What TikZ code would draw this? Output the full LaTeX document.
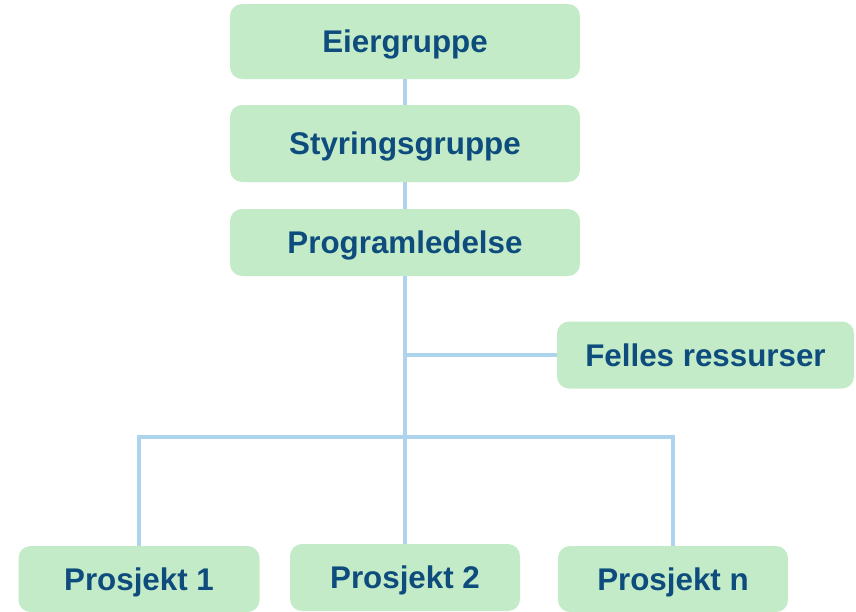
\documentclass[tikz,border=0pt]{standalone}
\usepackage{fontspec}
\usepackage{xcolor}
\usepackage{tikz}
\setmainfont{Liberation Sans}

\definecolor{boxgreen}{HTML}{C3EBC7}
\definecolor{textblue}{HTML}{0E4C7D}
\definecolor{lineblue}{HTML}{AED3EC}

\tikzset{
  orgbox/.style={fill=boxgreen, rounded corners=9pt, inner sep=0.75pt, align=center,
    text height=16.8pt, text depth=0pt,
    text=textblue, font=\fontsize{23.5pt}{28pt}\selectfont\bfseries},
  orgline/.style={draw=lineblue, line width=2.4pt}
}

\begin{document}
\begin{tikzpicture}[x=0.75pt,y=0.75pt,yscale=-1,xscale=1]

\useasboundingbox (0,0) rectangle (856,611);

% top chain
\node [orgbox, minimum width=262.5pt, minimum height=56.25pt] (eier) at (405,41.5) {Eiergruppe};
\node [orgbox, minimum width=262.5pt, minimum height=57.75pt] (styring) at (405,143.5) {Styringsgruppe};
\node [orgbox, minimum width=262.5pt, minimum height=50.25pt] (program) at (405,242.5) {Programledelse};

% side box
\node [orgbox, minimum width=222.75pt, minimum height=50.25pt] (felles) at (705.5,355) {Felles ressurser};

% projects
\node [orgbox, minimum width=180.75pt, minimum height=49.5pt] (pro1) at (139,579) {Prosjekt 1};
\node [orgbox, minimum width=172.5pt, minimum height=50.25pt] (pro2) at (405,577.5) {Prosjekt 2};
\node [orgbox, minimum width=172.5pt, minimum height=49.5pt] (pron) at (673,579) {Prosjekt n};

\coordinate (branch) at (405,355);
\coordinate (hub) at (405,437);

\draw [orgline] (eier) -- (styring);
\draw [orgline] (styring) -- (program);
\draw [orgline] (program) -- (hub);
\draw [orgline] (branch) -- (felles);
\draw [orgline] (hub) -- (pro2);
\draw [orgline] (hub) -| (pro1.north);
\draw [orgline] (hub) -| (pron.north);

\end{tikzpicture}
\end{document}
